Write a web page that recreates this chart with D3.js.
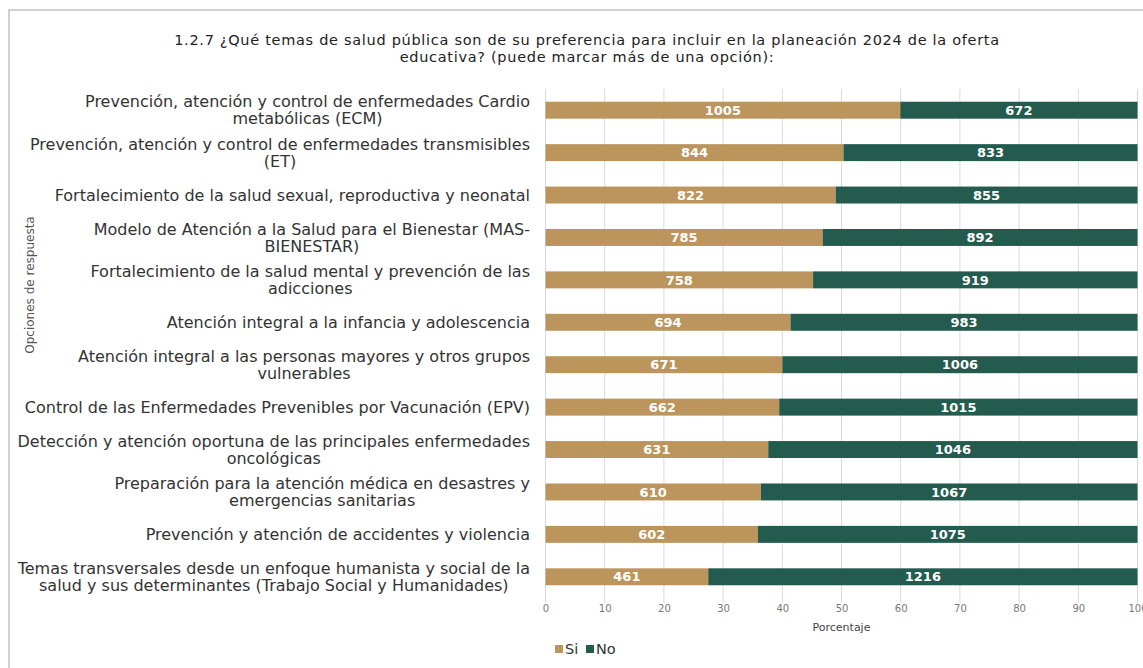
<!DOCTYPE html>
<html>
<head>
<meta charset="utf-8">
<script src="https://cdn.jsdelivr.net/npm/d3@7"></script>
<style>
	body { margin: 0; background: #fff; }
	svg { font-family: "DejaVu Sans", sans-serif; }
</style>
</head>
<body>
<div id="chart"></div>
<script>
// categories, each one split the way the reference wraps it
var categories = [
	["Prevención, atención y control de enfermedades Cardio", "metabólicas (ECM)"],
	["Prevención, atención y control de enfermedades transmisibles", "(ET)"],
	["Fortalecimiento de la salud sexual, reproductiva y neonatal"],
	["Modelo de Atención a la Salud para el Bienestar (MAS-", "BIENESTAR)"],
	["Fortalecimiento de la salud mental y prevención de las", "adicciones"],
	["Atención integral a la infancia y adolescencia"],
	["Atención integral a las personas mayores y otros grupos", "vulnerables"],
	["Control de las Enfermedades Prevenibles por Vacunación (EPV)"],
	["Detección y atención oportuna de las principales enfermedades", "oncológicas"],
	["Preparación para la atención médica en desastres y", "emergencias sanitarias"],
	["Prevención y atención de accidentes y violencia"],
	["Temas transversales desde un enfoque humanista y social de la", "salud y sus determinantes (Trabajo Social y Humanidades)"]
];
var siValues = [1005, 844, 822, 785, 758, 694, 671, 662, 631, 610, 602, 461];
var noValues = [672, 833, 855, 892, 919, 983, 1006, 1015, 1046, 1067, 1075, 1216];
var xTicks = [0, 10, 20, 30, 40, 50, 60, 70, 80, 90, 100];
var seriesNames = ["Si", "No"];
var titleLines = [
	"1.2.7 ¿Qué temas de salud pública son de su preferencia para incluir en la planeación 2024 de la oferta",
	"educativa? (puede marcar más de una opción):"
];

const
	W = 1143, H = 668,
	LEFT = 545.5, RIGHT = 1137.5, TOP = 89, BOTTOM = 598,
	colors = ["#bc955c", "#235b4e"];

var svg = d3.select("#chart").append("svg")
	.attr("width", W).attr("height", H);

// frame
svg.append("rect")
	.attr("x", 9).attr("y", 10)
	.attr("width", W + 20).attr("height", H + 20)
	.attr("fill", "none").attr("stroke", "#d0d0d0").attr("stroke-width", 2);

var x = d3.scaleLinear().domain([0, 100]).range([LEFT, RIGHT]);
var y = d3.scaleBand().domain(d3.range(categories.length))
	.range([TOP, BOTTOM]).paddingInner(0.6).paddingOuter(0.3);

// grid
svg.append("g").selectAll("line")
	.data(xTicks).enter().append("line")
	.attr("x1", d => x(d)).attr("x2", d => x(d))
	.attr("y1", TOP).attr("y2", BOTTOM + 5)
	.attr("stroke", "#d9d9d9").attr("stroke-width", 1);

var xAxis = d3.axisBottom(x).tickValues(xTicks).tickSize(0).tickPadding(7);
var ax = svg.append("g")
	.attr("transform", "translate(0," + BOTTOM + ")")
	.call(xAxis);
ax.select(".domain").remove();
ax.selectAll("text").attr("fill", "#777").style("font-size", "10px")
	.style("font-family", "DejaVu Sans, sans-serif");

svg.append("text")
	.attr("x", x(50)).attr("y", 631)
	.attr("text-anchor", "middle").attr("fill", "#444")
	.style("font-size", "11px").text("Porcentaje");

// stacked bars
var stackData = categories.map((c, i) => {
	var total = siValues[i] + noValues[i];
	return {i: i, vals: [siValues[i], noValues[i]], total: total};
});

stackData.forEach(function(d){
	var acc = 0;
	d.vals.forEach(function(v, k){
		var p0 = acc / d.total * 100, p1 = (acc + v) / d.total * 100;
		acc += v;
		svg.append("rect")
			.attr("x", x(p0)).attr("y", y(d.i))
			.attr("width", x(p1) - x(p0)).attr("height", y.bandwidth())
			.attr("fill", colors[k]);
		svg.append("text")
			.attr("x", (x(p0) + x(p1)) / 2).attr("y", y(d.i) + y.bandwidth() / 2)
			.attr("dy", ".36em").attr("text-anchor", "middle")
			.attr("fill", "#fff").style("font-size", "13px").style("font-weight", "bold")
			.text(v);
	});
});

// category labels: block right aligned, lines centered in block
var LABEL_RIGHT = 530, LINE_H = 17;
categories.forEach(function(lines, i){
	var cy = y(i) + y.bandwidth() / 2;
	var g = svg.append("g");
	var texts = lines.map(function(l, j){
		return g.append("text")
			.attr("y", cy + (j - (lines.length - 1) / 2) * LINE_H)
			.attr("dy", ".35em").attr("text-anchor", "middle")
			.attr("fill", "#333").style("font-size", "16px")
			.text(l);
	});
	var wMax = d3.max(texts, t => t.node().getComputedTextLength());
	texts.forEach(t => t.attr("x", LABEL_RIGHT - wMax / 2));
});

svg.append("text")
	.attr("transform", "translate(34,285) rotate(-90)")
	.attr("text-anchor", "middle").attr("fill", "#555")
	.style("font-size", "12px").text("Opciones de respuesta");

// title
svg.selectAll(".title").data(titleLines).enter().append("text")
	.attr("class", "title")
	.attr("x", 587).attr("y", (d, i) => 45 + i * 17)
	.attr("text-anchor", "middle").attr("fill", "#222")
	.style("font-size", "14.5px").style("letter-spacing", "0.7px")
	.text(d => d);

// legend
var legendX = [555, 586];
var legend = svg.selectAll(".legend").data(seriesNames).enter().append("g")
	.attr("class", "legend")
	.attr("transform", (d, i) => "translate(" + legendX[i] + ",649)");
legend.append("rect")
	.attr("x", 0).attr("y", -4).attr("width", 8).attr("height", 8)
	.attr("fill", (d, i) => colors[i]);
legend.append("text")
	.attr("x", 10).attr("dy", ".36em")
	.attr("fill", "#333").style("font-size", "14.5px")
	.text(d => d);
</script>
</body>
</html>
